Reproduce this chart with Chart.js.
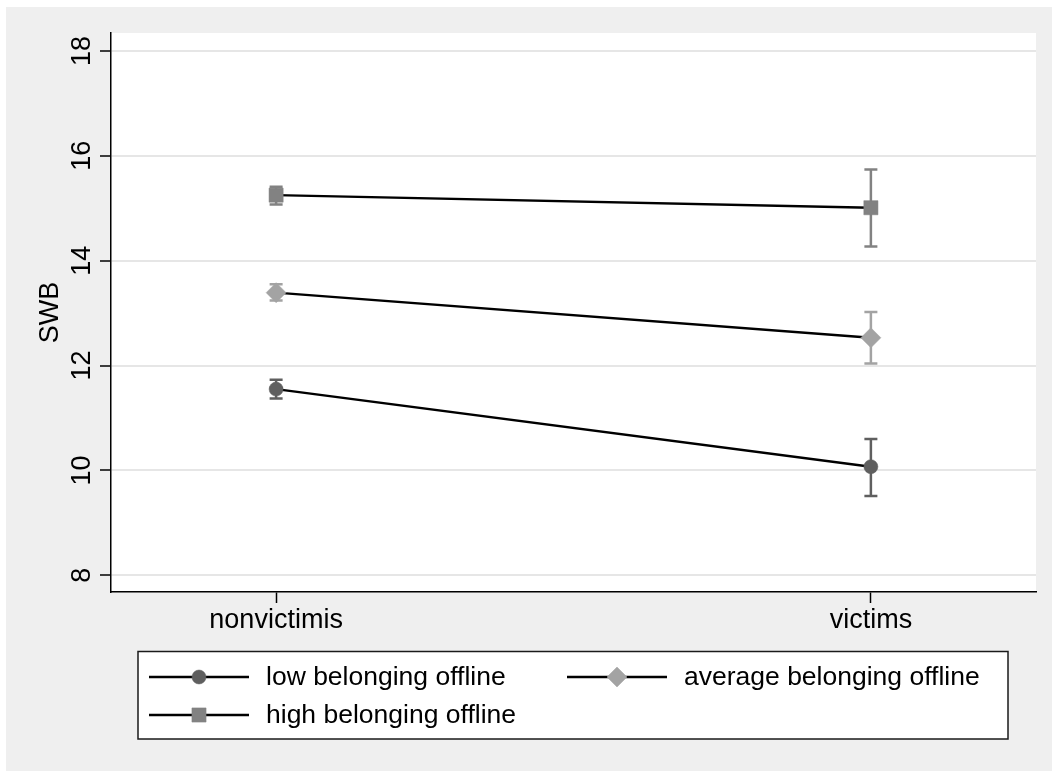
<!DOCTYPE html>
<html>
<head>
<meta charset="utf-8">
<script src="https://cdn.jsdelivr.net/npm/chart.js@4.4.0/dist/chart.umd.min.js"></script>
<style>
  html, body { margin: 0; padding: 0; background: #fff; }
  #wrap { width: 1052px; height: 771px; }
</style>
</head>
<body>
<div id="wrap"><canvas id="chart" width="1052" height="771"></canvas></div>
<script>
// values
const categories = ['nonvictimis', 'victims'];
const seriesNames = ['low belonging offline', 'average belonging offline', 'high belonging offline'];
const lowMean = [11.55, 10.07];
const lowLower = [11.37, 9.51];
const lowUpper = [11.73, 10.60];
const avgMean = [13.39, 12.53];
const avgLower = [13.24, 12.04];
const avgUpper = [13.55, 13.02];
const highMean = [15.25, 15.01];
const highLower = [15.07, 14.27];
const highUpper = [15.41, 15.74];
const yTicks = [8, 10, 12, 14, 16, 18];

const FONT = "'Liberation Sans', Arial, Helvetica, sans-serif";
const colors = ['#5f5f5f', '#a3a3a3', '#828282'];
const styles = ['circle', 'rectRot', 'rect'];
const radii = [7, 10, 10];
const lowers = [lowLower, avgLower, highLower];
const uppers = [lowUpper, avgUpper, highUpper];
const means = [lowMean, avgMean, highMean];

const datasets = means.map((m, s) => ({
  label: seriesNames[s],
  data: m.map((v, i) => ({ x: i, y: v })),
  borderColor: '#000',
  borderWidth: 2.4,
  pointStyle: styles[s],
  pointRadius: radii[s],
  pointHoverRadius: radii[s],
  pointBackgroundColor: colors[s],
  pointBorderColor: colors[s],
  pointBorderWidth: 0.5,
  errLower: lowers[s],
  errUpper: uppers[s]
}));

const backdrop = {
  id: 'backdrop',
  beforeDraw(chart) {
    const { ctx, chartArea: a } = chart;
    ctx.save();
    ctx.fillStyle = '#fff';
    ctx.fillRect(0, 0, chart.width, chart.height);
    ctx.fillStyle = '#efefef';
    ctx.fillRect(6, 7, chart.width - 6, chart.height - 7);
    ctx.fillStyle = '#fff';
    ctx.fillRect(a.left, a.top, a.right - a.left, a.bottom - a.top);
    ctx.restore();
  }
};

const errorBars = {
  id: 'errorBars',
  beforeDatasetsDraw(chart) {
    const { ctx, scales: { x, y } } = chart;
    ctx.save();
    chart.data.datasets.forEach((ds, s) => {
      ctx.strokeStyle = colors[s];
      ctx.lineWidth = 2.5;
      ds.data.forEach((p, i) => {
        const px = x.getPixelForValue(p.x);
        const lo = y.getPixelForValue(ds.errLower[i]);
        const hi = y.getPixelForValue(ds.errUpper[i]);
        ctx.beginPath();
        ctx.moveTo(px, lo); ctx.lineTo(px, hi);
        ctx.moveTo(px - 6.5, lo); ctx.lineTo(px + 6.5, lo);
        ctx.moveTo(px - 6.5, hi); ctx.lineTo(px + 6.5, hi);
        ctx.stroke();
      });
    });
    ctx.restore();
  }
};

const yLabels = {
  id: 'yLabels',
  afterDraw(chart) {
    const { ctx, chartArea: a, scales: { y } } = chart;
    ctx.save();
    ctx.fillStyle = '#000';
    ctx.font = '27px ' + FONT;
    ctx.textAlign = 'center';
    ctx.textBaseline = 'alphabetic';
    y.ticks.forEach(t => {
      ctx.save();
      ctx.translate(89.5, y.getPixelForValue(t.value));
      ctx.rotate(-Math.PI / 2);
      ctx.fillText(String(t.value), 0, 0);
      ctx.restore();
    });
    ctx.save();
    ctx.translate(58, (a.top + a.bottom) / 2);
    ctx.rotate(-Math.PI / 2);
    ctx.fillText('SWB', 0, 0);
    ctx.restore();
    ctx.restore();
  }
};

const boxLegend = {
  id: 'boxLegend',
  afterDraw(chart) {
    const { ctx } = chart;
    ctx.save();
    ctx.fillStyle = '#fff';
    ctx.fillRect(138, 651.5, 870, 87.5);
    ctx.strokeStyle = '#1a1a1a';
    ctx.lineWidth = 1.5;
    ctx.strokeRect(138, 651.5, 870, 87.5);
    const colX = [149, 567];
    const rowY = [677, 715];
    chart.data.datasets.forEach((ds, i) => {
      const x0 = colX[i % 2];
      const yy = rowY[Math.floor(i / 2)];
      ctx.strokeStyle = '#000';
      ctx.lineWidth = 2.4;
      ctx.beginPath();
      ctx.moveTo(x0, yy); ctx.lineTo(x0 + 100, yy);
      ctx.stroke();
      ctx.fillStyle = colors[i];
      ctx.strokeStyle = colors[i];
      ctx.lineWidth = 0.5;
      Chart.helpers.drawPoint(ctx, { pointStyle: ds.pointStyle, radius: ds.pointRadius, borderWidth: 0.5 }, x0 + 50, yy);
      ctx.fillStyle = '#000';
      ctx.font = '26.5px ' + FONT;
      ctx.textAlign = 'left';
      ctx.textBaseline = 'middle';
      ctx.fillText(ds.label, x0 + 117, yy + 1);
    });
    ctx.restore();
  }
};

new Chart(document.getElementById('chart'), {
  type: 'line',
  data: { datasets },
  options: {
    responsive: false,
    animation: false,
    devicePixelRatio: 1,
    layout: { padding: { left: 0, top: 33, right: 16, bottom: 0 } },
    plugins: { legend: { display: false }, tooltip: { enabled: false } },
    scales: {
      x: {
        type: 'linear',
        min: -0.2776,
        max: 1.2776,
        afterBuildTicks: s => { s.ticks = categories.map((c, i) => ({ value: i })); },
        afterFit: s => { s.height = 771 - 592; },
        grid: { drawOnChartArea: false, tickLength: 11, tickColor: '#000', tickWidth: 1.5 },
        border: { color: '#000', width: 1.5 },
        ticks: {
          autoSkip: false, maxRotation: 0, padding: 1, color: '#000',
          font: { family: FONT, size: 27 },
          callback: v => categories[v]
        }
      },
      y: {
        min: 7.68,
        max: 18.343,
        afterBuildTicks: s => { s.ticks = yTicks.map(v => ({ value: v })); },
        afterFit: s => { s.width = 111; },
        grid: { color: '#e6e6e6', lineWidth: 2, tickLength: 11, tickColor: '#000', tickWidth: 1.5 },
        border: { color: '#000', width: 1.5 },
        ticks: { display: false }
      }
    }
  },
  plugins: [backdrop, errorBars, yLabels, boxLegend]
});
</script>
</body>
</html>
